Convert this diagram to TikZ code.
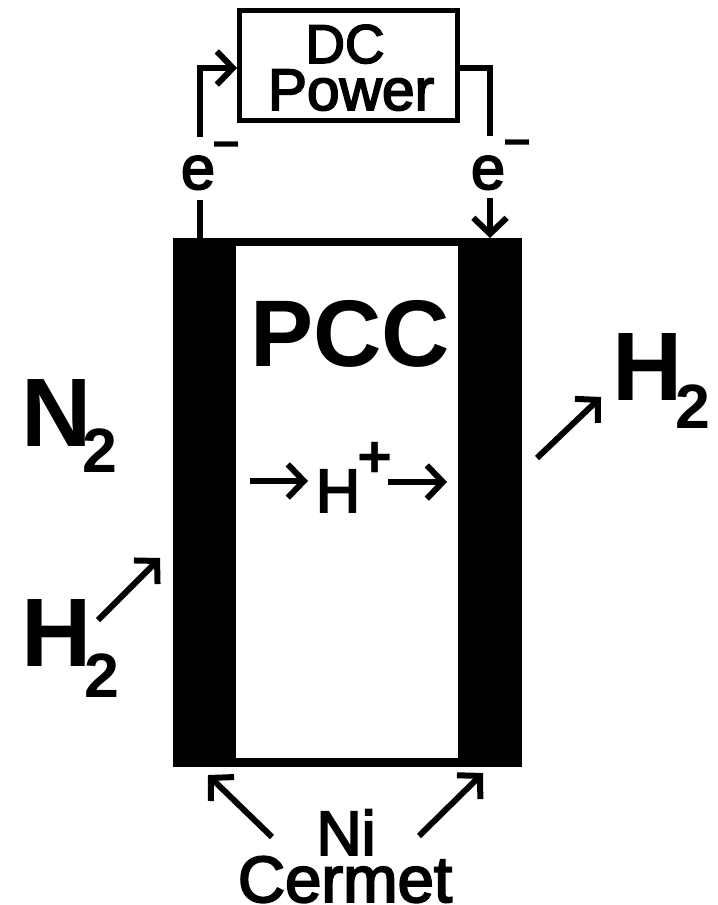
\documentclass[tikz,border=0pt]{standalone}
\usepackage{fontspec}
\setmainfont{Liberation Sans}
\newfontfamily\heavyfont[FakeBold=3]{Liberation Sans}
\usetikzlibrary{arrows.meta}
\tikzset{
  wire/.style={line width=4.5pt},
  arrowwire/.style={line width=4.5pt,-{Straight Barb[length=12pt,width=25pt,line width=4.5pt]}},
  bold/.style={inner sep=0pt,anchor=base,font=\fontsize{#1}{#1}\selectfont\bfseries},
  heavy/.style={inner sep=0pt,anchor=base,font=\fontsize{#1}{#1}\selectfont\heavyfont}
}
\begin{document}
\begin{tikzpicture}[x=0.75pt,y=0.75pt,yscale=-1,xscale=1]
\useasboundingbox (0,0) rectangle (717,905);

%Shape: Cell
\fill (173,238) rectangle (522,767);
\fill [white] (236,246) rectangle (458,758);
%Shape: Power box
\node (dcbox) [draw,line width=3.75pt,minimum width=163.5pt,minimum height=82.5pt,inner sep=0pt] at (348.5,65.5) {};

% Text Node
\node (dc) at (345,63) [heavy=41pt] {DC};
\node (power) at (351,110) [heavy=44pt] {Power};
\node (eleft) at (198,189) [heavy=46pt] {e};
\node (mleft) at (227,161) [bold=36pt] {\textminus};
\node (eright) at (488,189) [heavy=46pt] {e};
\node (mright) at (518,159) [bold=36pt] {\textminus};
\node (pcc) at (350,366) [bold=71pt] {PCC};
\node (hplus) at (338,512) [heavy=46pt] {H};
\node (plus) at (375,477) [bold=45pt] {+};
\node (ntwo) at (57,446) [bold=73pt] {N};
\node (ntwosub) at (100,472) [bold=47pt] {2};
\node (hleft) at (57,666) [bold=73pt] {H};
\node (hleftsub) at (102,697) [bold=47pt] {2};
\node (hright) at (648,400) [bold=73pt] {H};
\node (hrightsub) at (693,428) [bold=47pt] {2};
\node (ni) at (346,855) [heavy=47pt] {Ni};
\node (cermet) at (345,902) [heavy=49pt] {Cermet};

%Straight Lines
\coordinate (lefta) at (200,137);
\coordinate (leftb) at (200,68);
\coordinate (leftm) at (215,68);
\coordinate (leftc) at (237,68);
\draw [wire] (lefta) -- (leftb) -- (leftm);
\draw [arrowwire] (leftm) -- (leftc);
\coordinate (righta) at (458,68);
\coordinate (rightb) at (490,68);
\coordinate (rightc) at (490,136);
\draw [wire] (righta) -- (rightb) -- (rightc);
\coordinate (stuba) at (200,200);
\coordinate (stubb) at (200,240);
\draw [wire] (stuba) -- (stubb);
\coordinate (downa) at (490,198);
\coordinate (downb) at (490,238);
\draw [arrowwire] (downa) -- (downb);
\coordinate (hina) at (250,481);
\coordinate (hinb) at (308,481);
\draw [arrowwire] (hina) -- (hinb);
\coordinate (houta) at (388,482);
\coordinate (houtb) at (447,482);
\draw [arrowwire] (houta) -- (houtb);
\coordinate (feeda) at (98,620);
\coordinate (feedb) at (160,558);
\draw [arrowwire] (feeda) -- (feedb);
\coordinate (venta) at (537,458);
\coordinate (ventb) at (601,397);
\draw [arrowwire] (venta) -- (ventb);
\coordinate (nilefta) at (272,837);
\coordinate (nileftb) at (208,775);
\draw [arrowwire] (nilefta) -- (nileftb);
\coordinate (nirighta) at (419,836);
\coordinate (nirightb) at (483,773);
\draw [arrowwire] (nirighta) -- (nirightb);
\end{tikzpicture}
\end{document}
